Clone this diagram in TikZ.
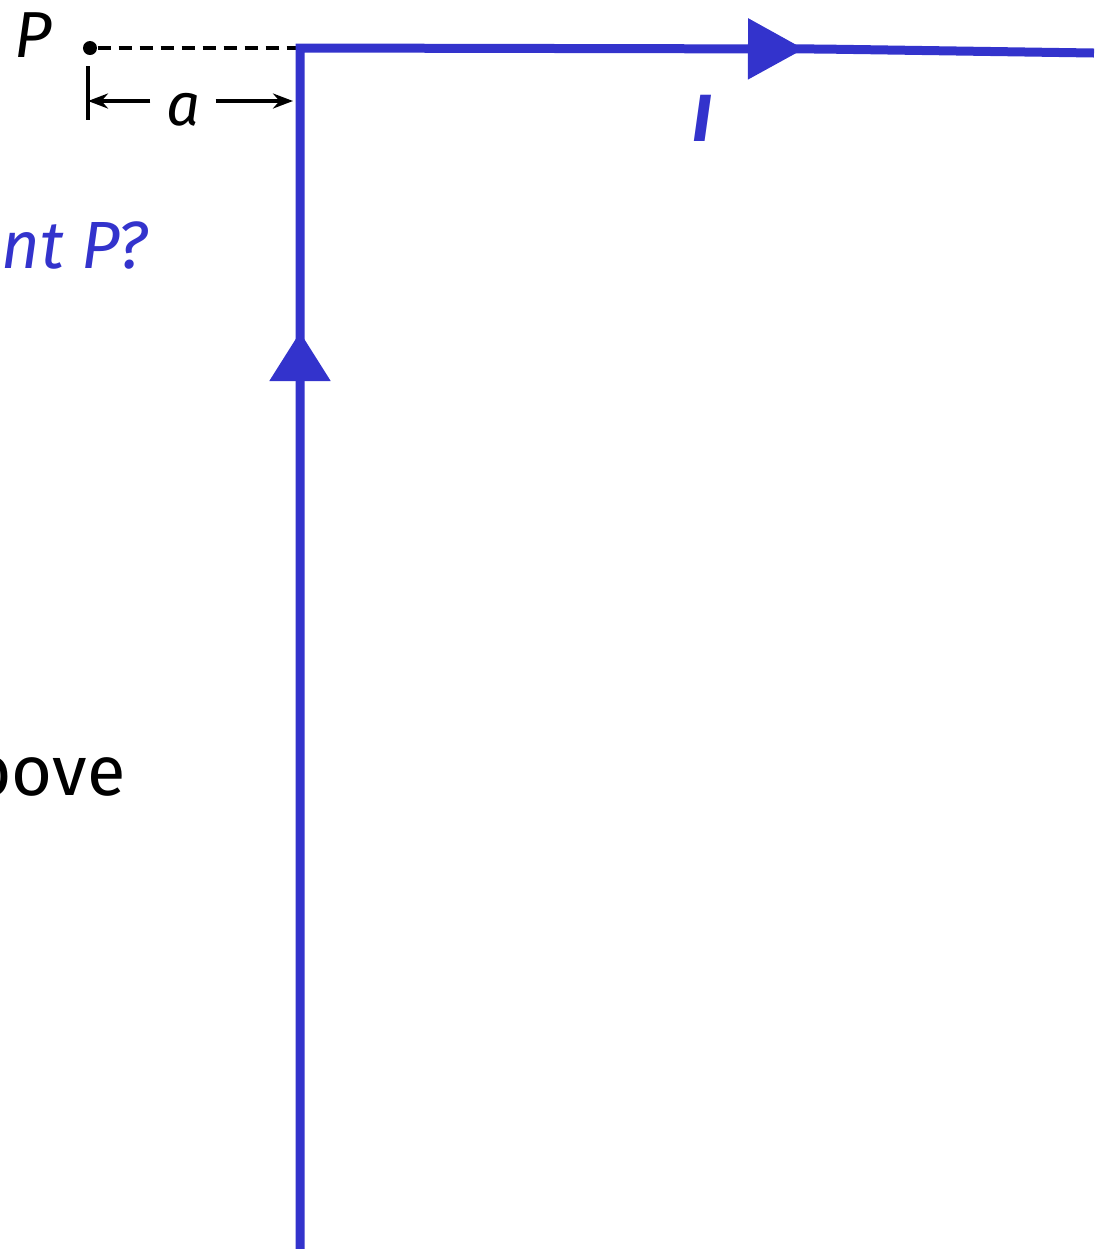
\documentclass[tikz,border=0pt]{standalone}
\usepackage{fontspec}
\setmainfont{Fira Sans}
\usetikzlibrary{arrows.meta,decorations.markings}
\definecolor{wireblue}{RGB}{51,51,204}

\begin{document}
\begin{tikzpicture}[>={Stealth[length=0.2cm,width=0.15cm]},
    wire/.style={line width=0.09cm, wireblue},
    dimline/.style={line width=0.033cm},
    every node/.style={inner sep=0pt, font=\fontsize{18.5}{22}\selectfont}]

    \useasboundingbox (0,0) rectangle (11.06,-12.49);

    % 導線の折れ点と端
    \coordinate (bot) at (3.00,-12.70);
    \coordinate (corner) at (3.00,-0.48);
    \coordinate (bend) at (8.20,-0.49);
    \coordinate (rend) at (10.94,-0.53);

    % 点 P と破線
    \node[circle, fill, minimum size=0.14cm] (Pdot) at (0.90,-0.48) {};
    \node (Plabel) at (0.33,-0.35) {\itshape P};
    \draw[dimline, dash pattern=on 0.13cm off 0.08cm] (Pdot) -- (corner);

    % 電流 I の流れる導線 (矢印は途中に)
    \draw[wire, line join=miter, postaction={decorate}, decoration={markings,
        mark=at position 9.38cm with {\arrow{Triangle[length=0.49cm,width=0.59cm]}},
        mark=at position 17.26cm with {\arrow{Triangle[length=0.56cm,width=0.59cm]}}}]
      (bot) -- (corner) -- (bend) -- (rend);
    \node[wireblue, font=\fontsize{19}{22}\selectfont\bfseries\itshape] (Ilabel) at (7.02,-1.18) {I};

    % 距離 a
    \coordinate (tickTop) at (0.88,-0.66);
    \coordinate (tickBot) at (0.88,-1.20);
    \coordinate (tickMid) at (0.88,-1.01);
    \coordinate (wireEdge) at (2.93,-1.01);
    \draw[dimline] (tickTop) -- (tickBot);
    \node[anchor=base, inner xsep=0.15cm, font=\fontsize{17}{20}\selectfont\itshape] (alabel) at (1.83,-1.25) {a};
    \draw[dimline, ->] (alabel.west |- tickMid) -- (tickMid);
    \draw[dimline, ->] (alabel.east |- wireEdge) -- (wireEdge);

    % 左側で切れている文
    \node[anchor=base east, wireblue, font=\fontsize{19}{22}\selectfont\itshape] (qtext) at (1.48,-2.68) {int P?};
    \node[anchor=base east, font=\fontsize{20}{24}\selectfont] (btext) at (1.26,-7.95) {bove};

\end{tikzpicture}
\end{document}
